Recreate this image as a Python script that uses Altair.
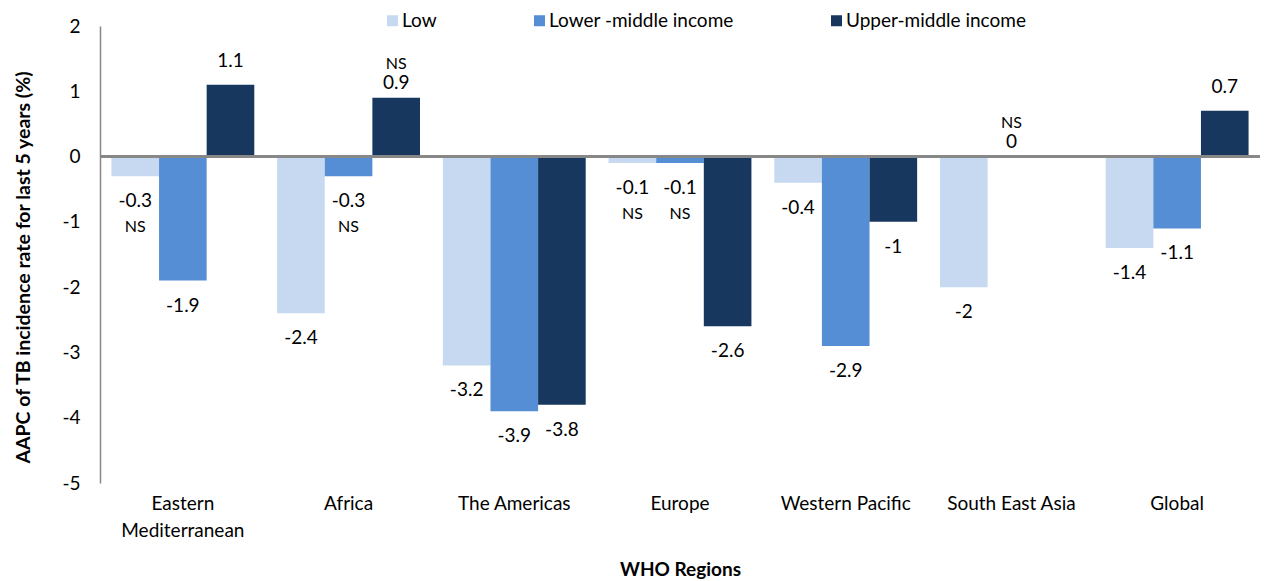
import altair as alt
import pandas as pd

regions = ["Eastern Mediterranean", "Africa", "The Americas", "Europe",
           "Western Pacific", "South East Asia", "Global"]
series = ["Low", "Lower -middle income", "Upper-middle income"]
low = [-0.3, -2.4, -3.2, -0.1, -0.4, -2.0, -1.4]
lower_mid = [-1.9, -0.3, -3.9, -0.1, -2.9, 0.0, -1.1]
upper_mid = [1.1, 0.9, -3.8, -2.6, -1.0, None, 0.7]
low_ns = [True, False, False, True, False, False, False]
lower_mid_ns = [False, True, False, True, False, True, False]
upper_mid_ns = [False, True, False, False, False, False, False]
colors = ["#C6D9F1", "#558ED5", "#17375E"]

rows = []
for s, vals, nss in zip(series, [low, lower_mid, upper_mid],
                        [low_ns, lower_mid_ns, upper_mid_ns]):
    for r, v, ns in zip(regions, vals, nss):
        if v is None:
            continue
        rows.append({"region": r, "series": s, "value": v,
                     "label": f"{v:g}", "ns": ns})
df = pd.DataFrame(rows)

FONT = "Lato"

x = alt.X("region:N", sort=regions,
          scale=alt.Scale(paddingInner=0, paddingOuter=0),
          axis=alt.Axis(title="WHO Regions", labelAngle=0, ticks=False,
                        domain=False, labelFontSize=19, labelColor="#000000",
                        labelPadding=11, labelLineHeight=27, labelLimit=0,
                        labelExpr="datum.label == 'Eastern Mediterranean' ? ['Eastern', 'Mediterranean'] : datum.label",
                        titleFontSize=19, titleFontWeight="bold",
                        titleColor="#000000", titlePadding=20))
xo = alt.XOffset("series:N", sort=series,
                 scale=alt.Scale(paddingInner=0, paddingOuter=0.24))
y = alt.Y("value:Q",
          scale=alt.Scale(domain=[-5, 2], nice=False, zero=False),
          axis=alt.Axis(title="AAPC of TB incidence rate for last 5 years (%)",
                        values=[-5, -4, -3, -2, -1, 0, 1, 2],
                        labelExpr="'' + datum.value",
                        grid=False, ticks=False, domainColor="#878787",
                        domainWidth=1.5, labelFontSize=19,
                        labelColor="#000000", labelPadding=20,
                        titleFontSize=19.5, titleFontWeight="bold",
                        titleColor="#000000", titlePadding=28, titleY=241))

bars = alt.Chart(df).mark_bar().encode(
    x=x, xOffset=xo, y=y,
    color=alt.Color("series:N", sort=series,
                    scale=alt.Scale(domain=series, range=colors),
                    legend=alt.Legend(title=None, orient="none",
                                      direction="horizontal",
                                      legendX=283, legendY=-15,
                                      symbolType="square", symbolSize=121,
                                      symbolStrokeWidth=0, labelFontSize=19,
                                      labelColor="#000000", labelOffset=0,
                                      labelLimit=0,
                                      columnPadding=93, padding=0)),
)

zero = alt.Chart(df).mark_rule(color="#878787", strokeWidth=2).encode(
    y=alt.datum(0))

base = alt.Chart(df).encode(x=x, xOffset=xo, y=y)
neg_lab = base.transform_filter("datum.value < 0").mark_text(
    dy=25, fontSize=19, color="#000000", font=FONT).encode(text="label:N")
pos_lab = base.transform_filter("datum.value >= 0 && !datum.ns").mark_text(
    dy=-24, fontSize=19, color="#000000", font=FONT).encode(text="label:N")
pos_lab_ns = base.transform_filter("datum.value >= 0 && datum.ns").mark_text(
    dy=-15, fontSize=19, color="#000000", font=FONT).encode(text="label:N")
neg_ns = base.transform_filter("datum.value < 0 && datum.ns").mark_text(
    dy=51, fontSize=16, color="#000000", font=FONT).encode(text=alt.value("NS"))
pos_ns = base.transform_filter("datum.value >= 0 && datum.ns").mark_text(
    dy=-34, fontSize=16, color="#000000", font=FONT).encode(text=alt.value("NS"))

chart = alt.layer(bars, zero, neg_lab, pos_lab, pos_lab_ns, neg_ns, pos_ns).properties(
    width=1160, height=457,
    autosize=alt.AutoSizeParams(type="none"),
    padding={"left": 92, "top": 18, "right": 0, "bottom": 97},
).configure(font=FONT).configure_view(stroke=None)

chart.save("out.html", embed_options={"renderer": "svg", "actions": False})
